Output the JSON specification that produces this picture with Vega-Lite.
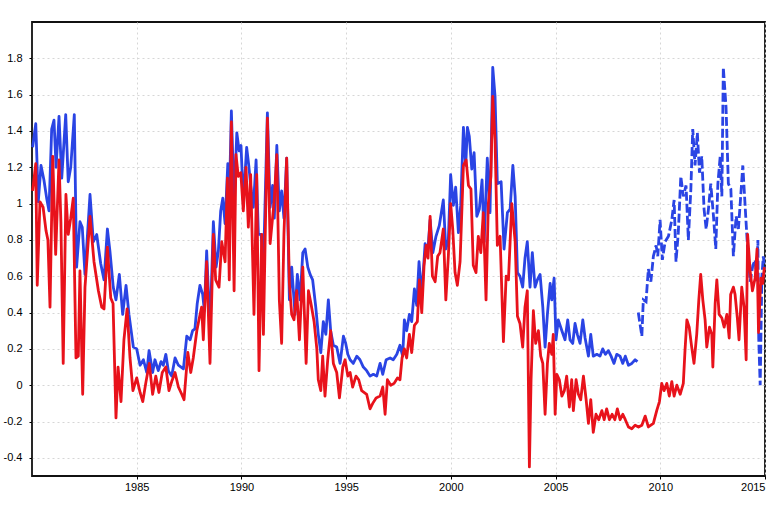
{
  "$schema": "https://vega.github.io/schema/vega-lite/v6.json",
  "width": 733,
  "height": 454,
  "autosize": {"type": "none"},
  "padding": {"left": 32, "top": 22, "right": 19, "bottom": 29},
  "background": "white",
  "config": {
    "view": {"stroke": "#111111", "strokeWidth": 1.8},
    "axis": {
      "domain": false,
      "grid": true,
      "gridColor": "#d6d6d6",
      "gridDash": [2, 3],
      "gridWidth": 1,
      "labelFont": "Liberation Sans",
      "labelFontSize": 11,
      "labelColor": "black",
      "tickColor": "black",
      "tickSize": 3,
      "title": null
    }
  },
  "datasets": {
    "blue": [
      {"t":1980.03,"v":1.31},{"t":1980.18,"v":1.44},{"t":1980.30,"v":1.01},{"t":1980.43,"v":1.21},{"t":1980.57,"v":1.13},
      {"t":1980.70,"v":1.03},{"t":1980.81,"v":0.96},{"t":1980.94,"v":1.41},{"t":1981.05,"v":1.46},{"t":1981.15,"v":1.2},
      {"t":1981.29,"v":1.48},{"t":1981.42,"v":1.14},{"t":1981.61,"v":1.49},{"t":1981.73,"v":1.12},{"t":1981.85,"v":1.2},
      {"t":1982.02,"v":1.49},{"t":1982.13,"v":0.65},{"t":1982.29,"v":0.9},{"t":1982.40,"v":0.87},{"t":1982.53,"v":0.61},
      {"t":1982.77,"v":1.05},{"t":1982.93,"v":0.79},{"t":1983.09,"v":0.83},{"t":1983.28,"v":0.67},{"t":1983.44,"v":0.58},
      {"t":1983.60,"v":0.86},{"t":1983.72,"v":0.74},{"t":1983.88,"v":0.54},{"t":1984.01,"v":0.47},{"t":1984.17,"v":0.61},
      {"t":1984.33,"v":0.39},{"t":1984.49,"v":0.55},{"t":1984.63,"v":0.39},{"t":1984.84,"v":0.21},{"t":1985.00,"v":0.2},
      {"t":1985.16,"v":0.11},{"t":1985.32,"v":0.14},{"t":1985.48,"v":0.07},{"t":1985.59,"v":0.19},{"t":1985.76,"v":0.07},
      {"t":1985.87,"v":0.14},{"t":1986.03,"v":0.08},{"t":1986.16,"v":0.13},{"t":1986.27,"v":0.11},{"t":1986.39,"v":0.17},
      {"t":1986.51,"v":0.08},{"t":1986.67,"v":0.05},{"t":1986.83,"v":0.15},{"t":1986.99,"v":0.11},{"t":1987.23,"v":0.09},
      {"t":1987.39,"v":0.27},{"t":1987.55,"v":0.25},{"t":1987.67,"v":0.3},{"t":1987.78,"v":0.31},{"t":1987.89,"v":0.45},
      {"t":1988.02,"v":0.55},{"t":1988.15,"v":0.5},{"t":1988.23,"v":0.41},{"t":1988.34,"v":0.74},{"t":1988.50,"v":0.3},
      {"t":1988.66,"v":0.9},{"t":1988.79,"v":0.65},{"t":1988.90,"v":0.74},{"t":1989.01,"v":0.96},{"t":1989.11,"v":1.03},
      {"t":1989.22,"v":0.89},{"t":1989.35,"v":1.22},{"t":1989.42,"v":1.01},{"t":1989.52,"v":1.51},{"t":1989.65,"v":1.01},
      {"t":1989.78,"v":1.39},{"t":1989.89,"v":1.29},{"t":1989.98,"v":1.32},{"t":1990.09,"v":1.01},{"t":1990.25,"v":1.31},
      {"t":1990.36,"v":1.2},{"t":1990.44,"v":1.1},{"t":1990.57,"v":0.98},{"t":1990.70,"v":1.24},{"t":1990.81,"v":0.83},
      {"t":1990.94,"v":0.83},{"t":1991.05,"v":0.65},{"t":1991.24,"v":1.5},{"t":1991.37,"v":0.98},{"t":1991.49,"v":1.1},
      {"t":1991.57,"v":0.92},{"t":1991.69,"v":1.32},{"t":1991.81,"v":0.96},{"t":1991.92,"v":1.07},{"t":1992.03,"v":0.92},
      {"t":1992.16,"v":1.25},{"t":1992.29,"v":0.47},{"t":1992.40,"v":0.65},{"t":1992.56,"v":0.39},{"t":1992.67,"v":0.61},
      {"t":1992.80,"v":0.47},{"t":1992.93,"v":0.73},{"t":1993.04,"v":0.75},{"t":1993.17,"v":0.65},{"t":1993.28,"v":0.61},
      {"t":1993.40,"v":0.58},{"t":1993.55,"v":0.43},{"t":1993.67,"v":0.28},{"t":1993.79,"v":0.18},{"t":1993.91,"v":0.35},
      {"t":1994.03,"v":0.28},{"t":1994.15,"v":0.47},{"t":1994.26,"v":0.3},{"t":1994.39,"v":0.22},{"t":1994.55,"v":0.21},
      {"t":1994.71,"v":0.12},{"t":1994.87,"v":0.27},{"t":1994.98,"v":0.23},{"t":1995.08,"v":0.17},{"t":1995.19,"v":0.14},
      {"t":1995.34,"v":0.12},{"t":1995.51,"v":0.16},{"t":1995.66,"v":0.14},{"t":1995.82,"v":0.1},{"t":1995.98,"v":0.08},
      {"t":1996.14,"v":0.05},{"t":1996.30,"v":0.06},{"t":1996.46,"v":0.05},{"t":1996.62,"v":0.12},{"t":1996.75,"v":0.06},
      {"t":1996.91,"v":0.14},{"t":1997.10,"v":0.15},{"t":1997.25,"v":0.14},{"t":1997.42,"v":0.17},{"t":1997.57,"v":0.22},
      {"t":1997.70,"v":0.16},{"t":1997.78,"v":0.36},{"t":1997.89,"v":0.3},{"t":1998.02,"v":0.39},{"t":1998.13,"v":0.35},
      {"t":1998.26,"v":0.53},{"t":1998.37,"v":0.44},{"t":1998.48,"v":0.68},{"t":1998.61,"v":0.49},{"t":1998.77,"v":0.78},
      {"t":1998.88,"v":0.71},{"t":1999.01,"v":0.91},{"t":1999.14,"v":0.73},{"t":1999.29,"v":0.82},{"t":1999.45,"v":0.88},
      {"t":1999.64,"v":1.02},{"t":1999.76,"v":0.75},{"t":1999.88,"v":0.8},{"t":1999.99,"v":1.16},{"t":2000.12,"v":0.99},
      {"t":2000.23,"v":1.09},{"t":2000.36,"v":0.84},{"t":2000.47,"v":0.99},{"t":2000.60,"v":1.42},{"t":2000.71,"v":1.21},
      {"t":2000.79,"v":1.42},{"t":2000.88,"v":1.37},{"t":2001.00,"v":1.19},{"t":2001.11,"v":1.28},{"t":2001.24,"v":0.93},
      {"t":2001.36,"v":0.97},{"t":2001.49,"v":1.13},{"t":2001.59,"v":0.79},{"t":2001.74,"v":1.25},{"t":2001.87,"v":0.95},
      {"t":2002.00,"v":1.75},{"t":2002.11,"v":1.59},{"t":2002.22,"v":1.11},{"t":2002.40,"v":1.12},{"t":2002.54,"v":0.75},
      {"t":2002.70,"v":0.95},{"t":2002.83,"v":0.97},{"t":2002.96,"v":1.21},{"t":2003.07,"v":1.04},{"t":2003.18,"v":0.62},
      {"t":2003.30,"v":0.6},{"t":2003.43,"v":0.54},{"t":2003.54,"v":0.7},{"t":2003.65,"v":0.79},{"t":2003.78,"v":0.54},
      {"t":2003.89,"v":0.73},{"t":2004.02,"v":0.54},{"t":2004.13,"v":0.58},{"t":2004.26,"v":0.61},{"t":2004.39,"v":0.43},
      {"t":2004.50,"v":0.21},{"t":2004.61,"v":0.39},{"t":2004.74,"v":0.56},{"t":2004.82,"v":0.47},{"t":2004.93,"v":0.59},
      {"t":2005.02,"v":0.25},{"t":2005.13,"v":0.36},{"t":2005.30,"v":0.3},{"t":2005.45,"v":0.25},{"t":2005.58,"v":0.36},
      {"t":2005.69,"v":0.25},{"t":2005.82,"v":0.23},{"t":2005.93,"v":0.34},{"t":2006.04,"v":0.28},{"t":2006.17,"v":0.23},
      {"t":2006.30,"v":0.36},{"t":2006.41,"v":0.26},{"t":2006.57,"v":0.16},{"t":2006.68,"v":0.28},{"t":2006.80,"v":0.16},
      {"t":2006.97,"v":0.17},{"t":2007.12,"v":0.16},{"t":2007.25,"v":0.2},{"t":2007.38,"v":0.17},{"t":2007.52,"v":0.19},
      {"t":2007.65,"v":0.16},{"t":2007.79,"v":0.12},{"t":2007.92,"v":0.17},{"t":2008.08,"v":0.16},{"t":2008.21,"v":0.12},
      {"t":2008.33,"v":0.16},{"t":2008.48,"v":0.11},{"t":2008.64,"v":0.12},{"t":2008.80,"v":0.14},{"t":2008.91,"v":0.13}
    ],
    "blue_dashed": [
      {"t":2008.95,"v":0.4},{"t":2009.12,"v":0.27},{"t":2009.19,"v":0.47},{"t":2009.32,"v":0.46},{"t":2009.43,"v":0.64},
      {"t":2009.55,"v":0.57},{"t":2009.67,"v":0.71},{"t":2009.80,"v":0.77},{"t":2009.88,"v":0.71},{"t":2009.99,"v":0.91},
      {"t":2010.10,"v":0.69},{"t":2010.23,"v":0.79},{"t":2010.39,"v":0.82},{"t":2010.55,"v":0.91},{"t":2010.66,"v":1.02},
      {"t":2010.75,"v":0.68},{"t":2010.86,"v":0.84},{"t":2010.98,"v":1.15},{"t":2011.10,"v":1.04},{"t":2011.23,"v":1.1},
      {"t":2011.34,"v":0.8},{"t":2011.46,"v":1.08},{"t":2011.55,"v":1.41},{"t":2011.66,"v":1.21},{"t":2011.77,"v":1.39},
      {"t":2011.87,"v":1.17},{"t":2011.98,"v":1.26},{"t":2012.09,"v":0.97},{"t":2012.19,"v":0.86},{"t":2012.30,"v":0.97},
      {"t":2012.41,"v":1.11},{"t":2012.54,"v":0.93},{"t":2012.65,"v":0.75},{"t":2012.75,"v":1.11},{"t":2012.86,"v":1.26},
      {"t":2012.94,"v":1.04},{"t":2013.01,"v":1.75},{"t":2013.14,"v":1.53},{"t":2013.25,"v":1.11},{"t":2013.37,"v":1.08},
      {"t":2013.49,"v":0.71},{"t":2013.62,"v":0.93},{"t":2013.73,"v":0.86},{"t":2013.84,"v":1.04},{"t":2013.94,"v":1.21},
      {"t":2014.05,"v":0.99},{"t":2014.16,"v":0.77},{"t":2014.29,"v":0.57},{"t":2014.42,"v":0.66},{"t":2014.53,"v":0.69},
      {"t":2014.61,"v":0.57},{"t":2014.66,"v":0.8},{"t":2014.70,"v":0.26},{"t":2014.77,"v":0.0},{"t":2014.85,"v":0.6},
      {"t":2014.92,"v":0.71},{"t":2014.98,"v":0.64}
    ],
    "red": [
      {"t":1980.03,"v":1.07},{"t":1980.18,"v":1.22},{"t":1980.25,"v":0.55},{"t":1980.38,"v":1.01},{"t":1980.53,"v":0.98},
      {"t":1980.67,"v":0.85},{"t":1980.76,"v":0.8},{"t":1980.86,"v":0.43},{"t":1980.99,"v":1.26},{"t":1981.13,"v":0.72},
      {"t":1981.29,"v":1.24},{"t":1981.38,"v":0.9},{"t":1981.49,"v":0.12},{"t":1981.62,"v":1.05},{"t":1981.73,"v":0.83},
      {"t":1981.85,"v":0.92},{"t":1981.97,"v":1.03},{"t":1982.10,"v":0.15},{"t":1982.21,"v":0.16},{"t":1982.29,"v":0.63},
      {"t":1982.42,"v":-0.05},{"t":1982.53,"v":0.54},{"t":1982.77,"v":0.93},{"t":1982.96,"v":0.68},{"t":1983.17,"v":0.52},
      {"t":1983.33,"v":0.43},{"t":1983.44,"v":0.42},{"t":1983.60,"v":0.76},{"t":1983.76,"v":0.48},{"t":1983.87,"v":0.45},
      {"t":1984.01,"v":-0.18},{"t":1984.11,"v":0.1},{"t":1984.25,"v":-0.09},{"t":1984.39,"v":0.25},{"t":1984.54,"v":0.42},
      {"t":1984.68,"v":0.15},{"t":1984.82,"v":-0.03},{"t":1985.00,"v":0.04},{"t":1985.16,"v":-0.04},{"t":1985.29,"v":-0.09},
      {"t":1985.43,"v":0.01},{"t":1985.60,"v":0.12},{"t":1985.76,"v":-0.05},{"t":1985.91,"v":0.05},{"t":1986.06,"v":-0.04},
      {"t":1986.22,"v":0.07},{"t":1986.39,"v":0.1},{"t":1986.54,"v":-0.03},{"t":1986.67,"v":0.02},{"t":1986.83,"v":0.07},
      {"t":1986.99,"v":-0.01},{"t":1987.15,"v":-0.05},{"t":1987.26,"v":-0.08},{"t":1987.44,"v":0.18},{"t":1987.58,"v":0.07},
      {"t":1987.70,"v":0.15},{"t":1987.87,"v":0.3},{"t":1987.99,"v":0.37},{"t":1988.10,"v":0.43},{"t":1988.18,"v":0.25},
      {"t":1988.34,"v":0.68},{"t":1988.50,"v":0.12},{"t":1988.66,"v":0.83},{"t":1988.77,"v":0.58},{"t":1988.93,"v":0.54},
      {"t":1989.06,"v":0.79},{"t":1989.22,"v":0.68},{"t":1989.33,"v":1.14},{"t":1989.42,"v":0.58},{"t":1989.52,"v":1.45},
      {"t":1989.65,"v":0.52},{"t":1989.74,"v":1.27},{"t":1989.85,"v":1.15},{"t":1989.97,"v":1.17},{"t":1990.09,"v":0.96},
      {"t":1990.22,"v":1.2},{"t":1990.33,"v":0.87},{"t":1990.44,"v":1.16},{"t":1990.60,"v":0.39},{"t":1990.73,"v":1.16},
      {"t":1990.84,"v":0.08},{"t":1990.97,"v":0.83},{"t":1991.05,"v":0.28},{"t":1991.24,"v":1.47},{"t":1991.37,"v":0.78},
      {"t":1991.56,"v":1.01},{"t":1991.69,"v":1.27},{"t":1991.81,"v":0.47},{"t":1991.92,"v":0.23},{"t":1992.03,"v":0.83},
      {"t":1992.16,"v":1.25},{"t":1992.29,"v":0.56},{"t":1992.40,"v":0.39},{"t":1992.51,"v":0.36},{"t":1992.64,"v":0.52},
      {"t":1992.77,"v":0.25},{"t":1992.93,"v":0.65},{"t":1993.09,"v":0.12},{"t":1993.20,"v":0.52},{"t":1993.32,"v":0.45},
      {"t":1993.47,"v":0.35},{"t":1993.60,"v":0.2},{"t":1993.67,"v":0.03},{"t":1993.79,"v":-0.03},{"t":1993.88,"v":0.16},
      {"t":1993.99,"v":-0.06},{"t":1994.12,"v":0.14},{"t":1994.26,"v":0.3},{"t":1994.39,"v":0.12},{"t":1994.55,"v":0.07},
      {"t":1994.68,"v":-0.07},{"t":1994.84,"v":0.1},{"t":1994.95,"v":0.14},{"t":1995.08,"v":0.05},{"t":1995.19,"v":0.07},
      {"t":1995.31,"v":-0.01},{"t":1995.47,"v":0.05},{"t":1995.60,"v":0.03},{"t":1995.74,"v":-0.03},{"t":1995.98,"v":-0.05},
      {"t":1996.14,"v":-0.13},{"t":1996.27,"v":-0.1},{"t":1996.43,"v":-0.07},{"t":1996.62,"v":-0.06},{"t":1996.75,"v":-0.01},
      {"t":1996.86,"v":-0.16},{"t":1996.97,"v":0.03},{"t":1997.13,"v":0.0},{"t":1997.29,"v":0.01},{"t":1997.45,"v":0.04},
      {"t":1997.57,"v":0.03},{"t":1997.67,"v":0.15},{"t":1997.78,"v":0.2},{"t":1997.89,"v":0.15},{"t":1998.02,"v":0.28},
      {"t":1998.13,"v":0.18},{"t":1998.26,"v":0.33},{"t":1998.40,"v":0.35},{"t":1998.50,"v":0.58},{"t":1998.61,"v":0.4},
      {"t":1998.72,"v":0.66},{"t":1998.82,"v":0.77},{"t":1998.91,"v":0.7},{"t":1999.01,"v":0.93},{"t":1999.12,"v":0.6},
      {"t":1999.25,"v":0.57},{"t":1999.37,"v":0.71},{"t":1999.48,"v":0.73},{"t":1999.64,"v":0.86},{"t":1999.76,"v":0.47},
      {"t":1999.88,"v":0.71},{"t":1999.99,"v":1.0},{"t":2000.09,"v":0.86},{"t":2000.20,"v":0.62},{"t":2000.31,"v":0.55},
      {"t":2000.44,"v":0.68},{"t":2000.60,"v":1.21},{"t":2000.73,"v":1.24},{"t":2000.84,"v":1.1},{"t":2000.96,"v":1.08},
      {"t":2001.07,"v":0.66},{"t":2001.20,"v":0.62},{"t":2001.31,"v":0.82},{"t":2001.43,"v":0.73},{"t":2001.55,"v":0.95},
      {"t":2001.68,"v":0.47},{"t":2001.79,"v":1.0},{"t":2001.91,"v":1.15},{"t":2002.00,"v":1.59},{"t":2002.11,"v":1.35},
      {"t":2002.22,"v":0.77},{"t":2002.35,"v":0.82},{"t":2002.51,"v":0.24},{"t":2002.64,"v":0.6},{"t":2002.75,"v":0.58},
      {"t":2002.91,"v":1.0},{"t":2003.07,"v":0.79},{"t":2003.18,"v":0.38},{"t":2003.30,"v":0.34},{"t":2003.43,"v":0.21},
      {"t":2003.54,"v":0.43},{"t":2003.65,"v":0.52},{"t":2003.75,"v":-0.45},{"t":2003.83,"v":0.03},{"t":2003.94,"v":0.41},
      {"t":2004.05,"v":0.23},{"t":2004.18,"v":0.3},{"t":2004.29,"v":0.16},{"t":2004.39,"v":0.12},{"t":2004.50,"v":-0.16},
      {"t":2004.61,"v":0.12},{"t":2004.70,"v":0.23},{"t":2004.82,"v":0.17},{"t":2004.89,"v":0.28},{"t":2004.98,"v":-0.16},
      {"t":2005.06,"v":0.06},{"t":2005.18,"v":0.03},{"t":2005.30,"v":-0.06},{"t":2005.42,"v":-0.03},{"t":2005.53,"v":0.05},
      {"t":2005.66,"v":-0.12},{"t":2005.77,"v":0.03},{"t":2005.85,"v":-0.14},{"t":2005.98,"v":0.03},{"t":2006.09,"v":-0.05},
      {"t":2006.20,"v":-0.08},{"t":2006.33,"v":0.05},{"t":2006.46,"v":-0.08},{"t":2006.57,"v":-0.21},{"t":2006.68,"v":-0.08},
      {"t":2006.80,"v":-0.26},{"t":2006.93,"v":-0.16},{"t":2007.06,"v":-0.19},{"t":2007.21,"v":-0.14},{"t":2007.32,"v":-0.19},
      {"t":2007.44,"v":-0.13},{"t":2007.57,"v":-0.19},{"t":2007.70,"v":-0.16},{"t":2007.83,"v":-0.19},{"t":2007.95,"v":-0.13},
      {"t":2008.08,"v":-0.19},{"t":2008.21,"v":-0.16},{"t":2008.33,"v":-0.19},{"t":2008.48,"v":-0.23},{"t":2008.64,"v":-0.24},
      {"t":2008.80,"v":-0.22},{"t":2008.96,"v":-0.23},{"t":2009.12,"v":-0.22},{"t":2009.28,"v":-0.17},{"t":2009.43,"v":-0.23},
      {"t":2009.67,"v":-0.21},{"t":2009.83,"v":-0.14},{"t":2009.96,"v":-0.09},{"t":2010.07,"v":0.01},{"t":2010.18,"v":-0.03},
      {"t":2010.31,"v":0.01},{"t":2010.43,"v":-0.06},{"t":2010.55,"v":0.02},{"t":2010.66,"v":-0.06},{"t":2010.79,"v":0.0},
      {"t":2010.95,"v":-0.05},{"t":2011.10,"v":0.01},{"t":2011.18,"v":0.19},{"t":2011.27,"v":0.36},{"t":2011.38,"v":0.32},
      {"t":2011.50,"v":0.21},{"t":2011.61,"v":0.12},{"t":2011.74,"v":0.28},{"t":2011.84,"v":0.47},{"t":2011.93,"v":0.61},
      {"t":2012.03,"v":0.47},{"t":2012.14,"v":0.36},{"t":2012.22,"v":0.21},{"t":2012.35,"v":0.32},{"t":2012.46,"v":0.28},
      {"t":2012.51,"v":0.1},{"t":2012.62,"v":0.45},{"t":2012.70,"v":0.58},{"t":2012.81,"v":0.39},{"t":2012.94,"v":0.37},
      {"t":2013.05,"v":0.32},{"t":2013.18,"v":0.39},{"t":2013.29,"v":0.26},{"t":2013.36,"v":0.5},{"t":2013.49,"v":0.54},
      {"t":2013.57,"v":0.5},{"t":2013.68,"v":0.37},{"t":2013.76,"v":0.25},{"t":2013.89,"v":0.54},{"t":2014.00,"v":0.43},
      {"t":2014.10,"v":0.14},{"t":2014.17,"v":0.83},{"t":2014.29,"v":0.63},{"t":2014.40,"v":0.52},{"t":2014.53,"v":0.59},
      {"t":2014.62,"v":0.75},{"t":2014.69,"v":0.29},{"t":2014.80,"v":0.59},{"t":2014.89,"v":0.56},{"t":2014.97,"v":0.65}
    ]
  },
  "encoding": {
    "x": {
      "field": "t",
      "type": "quantitative",
      "scale": {"domain": [1980, 2015], "nice": false, "zero": false},
      "axis": {"values": [1985, 1990, 1995, 2000, 2005, 2010, 2015], "format": "d", "labelPadding": 2}
    },
    "y": {
      "field": "v",
      "type": "quantitative",
      "scale": {"domain": [-0.5, 2.0], "nice": false, "zero": false},
      "axis": {
        "values": [-0.4, -0.2, 0, 0.2, 0.4, 0.6, 0.8, 1, 1.2, 1.4, 1.6, 1.8],
        "labelExpr": "datum.value + ''",
        "labelPadding": 7
      }
    }
  },
  "layer": [
    {
      "data": {"name": "blue"},
      "mark": {"type": "line", "color": "#2a44e4", "strokeWidth": 2.8, "strokeJoin": "round"}
    },
    {
      "data": {"name": "blue_dashed"},
      "mark": {"type": "line", "color": "#2a44e4", "strokeWidth": 2.8, "strokeDash": [9, 3]}
    },
    {
      "data": {"name": "red"},
      "mark": {"type": "line", "color": "#e8121b", "strokeWidth": 2.8, "strokeJoin": "round"}
    }
  ]
}
